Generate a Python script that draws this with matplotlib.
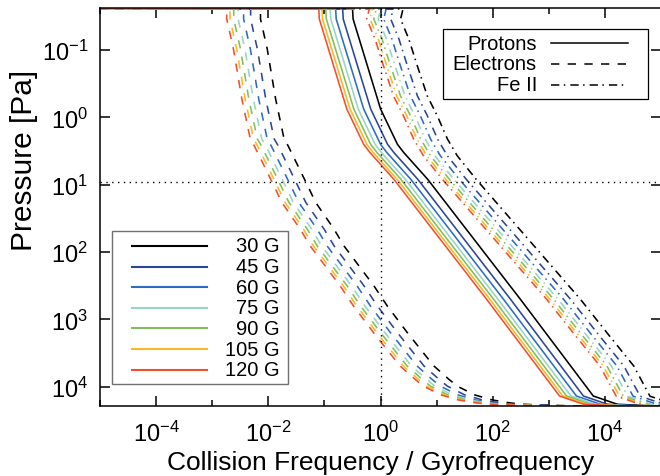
import numpy as np
import matplotlib
matplotlib.use("Agg")
import matplotlib.pyplot as plt
from matplotlib.ticker import FixedLocator, FixedFormatter, NullLocator, NullFormatter

plt.rcParams['font.family'] = ['Liberation Sans', 'DejaVu Sans']
plt.rcParams['mathtext.fontset'] = 'custom'
plt.rcParams['mathtext.rm'] = 'Liberation Sans'
plt.rcParams['mathtext.it'] = 'Liberation Sans:italic'
plt.rcParams['mathtext.bf'] = 'Liberation Sans:bold'
plt.rcParams['mathtext.default'] = 'regular'
plt.rcParams['lines.scale_dashes'] = False

fields = [30, 45, 60, 75, 90, 105, 120]
field_labels = ['30 G', '45 G', '60 G', '75 G', '90 G', '105 G', '120 G']
colors = ['#000000', '#2b4699', '#2d6cc3', '#96d6c3', '#84bd5a', '#fbb828', '#f2502a']

# profiles for the 30 G case, log10 values
proton_logp = [-1.70, -1.622, -1.61, -1.46, -0.123, 0.40, 0.52, 0.917, 2.70, 4.137, 4.26, 4.29, 4.31]
proton_logr = [-8.0, -6.0, -0.50, -0.49, 0.0, 0.30, 0.41, 0.836, 2.49, 3.79, 4.22, 5.0, 6.0]

electron_logp = [-1.70, -1.622, -1.61, -1.46, -1.015, -0.27, 0.32, 0.42, 0.81, 1.016, 1.263, 1.66,
                 1.908, 2.502, 2.80, 3.195, 3.444, 3.69, 3.888, 3.99, 4.12, 4.196, 4.235, 4.26, 4.30]
electron_logr = [-8.0, -6.0, -2.14, -2.14, -2.02, -1.87, -1.72, -1.65, -1.42, -1.30, -1.157, -0.83,
                 -0.653, -0.119, 0.119, 0.475, 0.712, 0.948, 1.215, 1.365, 1.673, 1.99, 2.27, 2.52, 4.0]

fe_logp = [-1.70, -1.622, -1.61, -1.46, -1.16, -0.767, -0.32, -0.024, 0.32, 0.57, 0.917,
           2.70, 3.195, 3.69, 4.14, 4.28, 4.30]
fe_logr = [-8.0, -6.0, 0.40, 0.356, 0.504, 0.653, 0.831, 1.009, 1.19, 1.365, 1.70,
           3.56, 4.03, 4.51, 4.80, 5.3, 6.0]

species = ['Protons', 'Electrons', 'Fe II']
styles = [(None, None), (0, (6.0, 6.0)), (0, (6.0, 3.2, 1.1, 3.6))]

dotted_p = 9.0
dotted_r = 1.0

W, H = 561.2, 397.7   # axes size in pixels

fig = plt.figure(figsize=(6.6, 4.77), dpi=100)
ax = fig.add_axes([100 / 660, 70.3 / 477, W / 660, H / 477])

profiles = [(proton_logr, proton_logp), (electron_logr, electron_logp), (fe_logr, fe_logp)]
for (lr, lp), st in zip(profiles, styles):
    for b, c in zip(fields, colors):
        r = 10 ** np.array(lr) * fields[0] / b
        p = 10 ** np.array(lp)
        line, = ax.plot(r, p, color=c, lw=1.15)
        if st[0] is not None:
            line.set_linestyle(st)

ax.axhline(dotted_p, color='black', lw=1.0, ls=(0, (1.0, 3.2)))
ax.axvline(dotted_r, color='black', lw=1.0, ls=(0, (1.0, 3.2)))

ax.set_xscale('log')
ax.set_yscale('log')
ax.set_xlim(1e-5, 1e5)
ax.set_ylim(1.91e4, 0.0238)

xmaj = [1e-4, 1e-2, 1e0, 1e2, 1e4]
ax.xaxis.set_major_locator(FixedLocator(xmaj))
ax.xaxis.set_major_formatter(FixedFormatter(['$10^{-4}$', '$10^{-2}$', '$10^{0}$', '$10^{2}$', '$10^{4}$']))
ax.xaxis.set_minor_locator(FixedLocator([1e-5, 1e-3, 1e-1, 1e1, 1e3, 1e5]))
ax.xaxis.set_minor_formatter(NullFormatter())
ymaj = [1e-1, 1e0, 1e1, 1e2, 1e3, 1e4]
ax.yaxis.set_major_locator(FixedLocator(ymaj))
ax.yaxis.set_major_formatter(FixedFormatter(['$10^{-1}$', '$10^{0}$', '$10^{1}$', '$10^{2}$', '$10^{3}$', '$10^{4}$']))
ax.yaxis.set_minor_locator(NullLocator())
ax.yaxis.set_minor_formatter(NullFormatter())
ax.tick_params(which='both', direction='in', top=True, right=True, width=1.1, labelsize=17)
ax.tick_params(which='major', length=7.5)
ax.tick_params(which='minor', length=4)
ax.tick_params(axis='x', pad=11)
ax.tick_params(axis='y', pad=8.5)
for s in ax.spines.values():
    s.set_linewidth(1.1)

ax.set_xlabel('Collision Frequency / Gyrofrequency', fontsize=19)
ax.xaxis.set_label_coords(0.5, (406.7 - 451) / H)
ax.set_ylabel('Pressure [Pa]', fontsize=21.5)
ax.yaxis.set_label_coords((38 - 100) / W, (406.7 - 160) / H)

# species legend, upper right
ax.add_patch(plt.Rectangle(((442.7 - 100) / W, (406.7 - 100) / H), 205.6 / W, 70 / H,
                           transform=ax.transAxes, fill=False, lw=0.9, ec='black', zorder=5))
for i, (name, st) in enumerate(zip(species, styles)):
    yy = (406.7 - (44.3 + 20.7 * i)) / H
    ax.text((537 - 100) / W, yy, name, transform=ax.transAxes, ha='right', va='center', fontsize=14.5)
    ln, = ax.plot([(551 - 100) / W, (628 - 100) / W], [yy, yy], transform=ax.transAxes,
                  color='black', lw=1.1)
    if st[0] is not None:
        ln.set_linestyle(st)

# field legend, lower left
ax.add_patch(plt.Rectangle(((112 - 100) / W, (406.7 - 385) / H), (287.5 - 112) / W, (385 - 231.7) / H,
                           transform=ax.transAxes, fill=False, lw=1.0, ec='#707070', zorder=5))
for i, (lab, c) in enumerate(zip(field_labels, colors)):
    yy = (406.7 - (247 + 20.6 * i)) / H
    ax.plot([(132 - 100) / W, (207 - 100) / W], [yy, yy], transform=ax.transAxes, color=c, lw=1.5)
    ax.text((280 - 100) / W, yy, lab, transform=ax.transAxes, ha='right', va='center', fontsize=14.5)

fig.savefig('out.png', dpi=100)
